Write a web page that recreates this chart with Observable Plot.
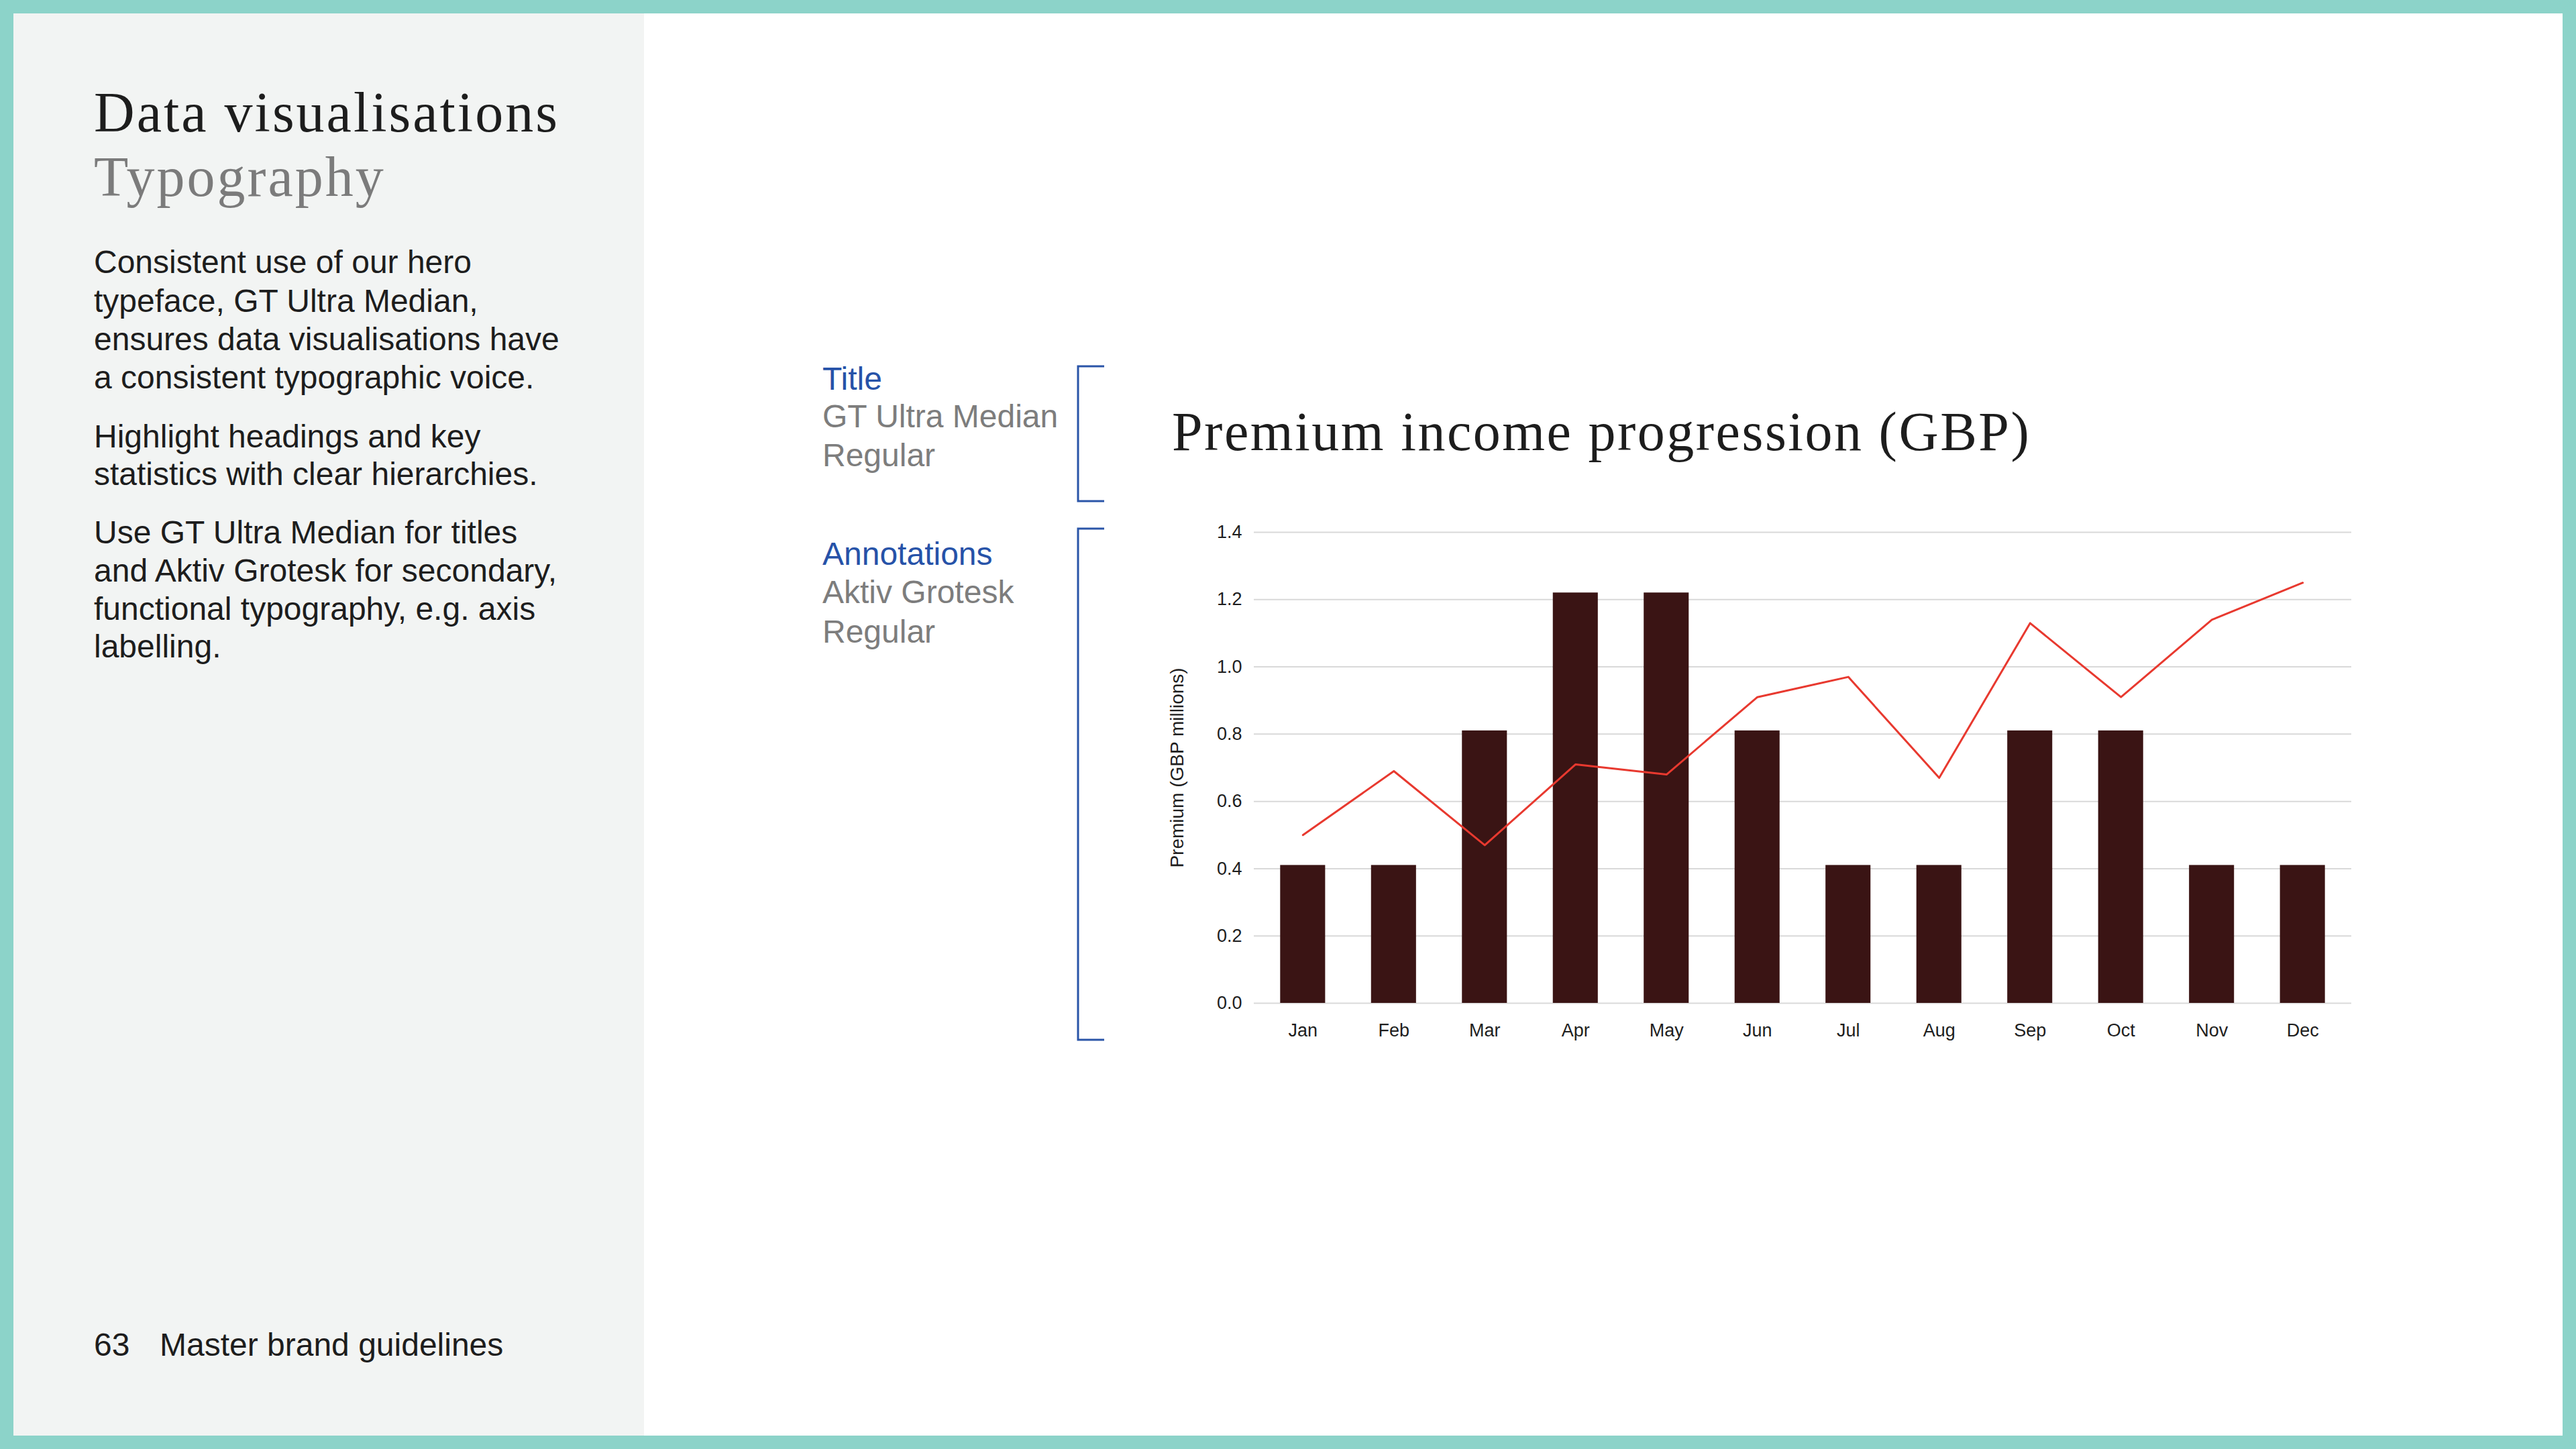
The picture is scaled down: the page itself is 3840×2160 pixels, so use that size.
<!DOCTYPE html>
<html>
<head>
<meta charset="utf-8">
<script src="https://cdn.jsdelivr.net/npm/d3@7"></script>
<script src="https://cdn.jsdelivr.net/npm/@observablehq/plot@0.6"></script>
<style>
  html, body { margin: 0; padding: 0; }
  body { width: 3840px; height: 2160px; background: #8cd3c9; position: relative; overflow: hidden; }
  #page { position: absolute; left: 0; top: 0; }
  #chart { position: absolute; left: 1700px; top: 760px; width: 1840px; height: 840px; }
  #chart svg { max-width: none !important; overflow: visible; }
</style>
</head>
<body>
<svg id="page" width="3840" height="2160" xmlns="http://www.w3.org/2000/svg">
  <rect x="20" y="20" width="940" height="2120" fill="#f2f4f3"/>
  <rect x="960" y="20" width="2860" height="2120" fill="#ffffff"/>
  <g font-family="'Liberation Serif', serif" font-size="84" letter-spacing="3">
    <text x="140" y="196" fill="#1d1d1d">Data visualisations</text>
    <text x="140" y="292" fill="#7b7b7b">Typography</text>
  </g>
  <g font-family="'Liberation Sans', Arial, sans-serif" font-size="48" fill="#1d1d1d">
    <text x="140" y="407">Consistent use of our hero</text>
    <text x="140" y="465">typeface, GT Ultra Median,</text>
    <text x="140" y="522">ensures data visualisations have</text>
    <text x="140" y="579">a consistent typographic voice.</text>
    <text x="140" y="667">Highlight headings and key</text>
    <text x="140" y="723">statistics with clear hierarchies.</text>
    <text x="140" y="810">Use GT Ultra Median for titles</text>
    <text x="140" y="867">and Aktiv Grotesk for secondary,</text>
    <text x="140" y="924">functional typography, e.g. axis</text>
    <text x="140" y="980">labelling.</text>
    <text x="140" y="2021">63</text>
    <text x="238" y="2021">Master brand guidelines</text>
  </g>
  <g font-family="'Liberation Sans', Arial, sans-serif" font-size="48">
    <text x="1226" y="581" fill="#2652a8">Title</text>
    <text x="1226" y="637" fill="#7d7d7d">GT Ultra Median</text>
    <text x="1226" y="695" fill="#7d7d7d">Regular</text>
    <text x="1226" y="842" fill="#2652a8">Annotations</text>
    <text x="1226" y="899" fill="#7d7d7d">Aktiv Grotesk</text>
    <text x="1226" y="958" fill="#7d7d7d">Regular</text>
  </g>
  <g fill="none" stroke="#2a55a8" stroke-width="3">
    <path d="M1646,546 H1607 V747 H1646"/>
    <path d="M1646,788 H1607 V1550 H1646"/>
  </g>
  <text x="1747" y="671" font-family="'Liberation Serif', serif" font-size="82" letter-spacing="2.5" fill="#1d1d1d">Premium income progression (GBP)</text>
</svg>
<div id="chart"></div>
<script>
const months = ["Jan","Feb","Mar","Apr","May","Jun","Jul","Aug","Sep","Oct","Nov","Dec"];
const barValues = [0.41,0.41,0.81,1.22,1.22,0.81,0.41,0.41,0.81,0.81,0.41,0.41];
const lineValues = [0.50,0.69,0.47,0.71,0.68,0.91,0.97,0.67,1.13,0.91,1.14,1.25];
const yTicks = [0,0.2,0.4,0.6,0.8,1.0,1.2,1.4];
const yLabel = ["Premium (GBP millions)"];

const data = months.map((m, i) => ({month: m, bar: barValues[i], line: lineValues[i]}));

const chart = Plot.plot({
  width: 1840,
  height: 840,
  marginLeft: 169,
  marginRight: 35,
  marginTop: 33,
  marginBottom: 105,
  style: {fontFamily: "'Liberation Sans', Arial, sans-serif", fontSize: "27px", color: "#1e1e1e", background: "transparent", overflow: "visible"},
  x: {domain: months, paddingInner: 0.505, paddingOuter: 0.29, round: false, label: null, tickSize: 0, tickPadding: 30},
  y: {domain: [0, 1.4], ticks: yTicks, tickFormat: d3.format(".1f"), label: null, tickSize: 0, tickPadding: 18},
  marks: [
    Plot.ruleY(yTicks, {stroke: "#d9d9d9", strokeWidth: 2}),
    Plot.barY(data, {x: "month", y: "bar", fill: "#3a1414"}),
    Plot.lineY(data, {x: "month", y: "line", stroke: "#e8392f", strokeWidth: 3}),
    Plot.text(yLabel, {text: d => d, frameAnchor: "left", textAnchor: "middle", rotate: -90, dx: -114, fontSize: 28, fill: "#1e1e1e"})
  ]
});
document.getElementById("chart").appendChild(chart);
</script>
</body>
</html>
